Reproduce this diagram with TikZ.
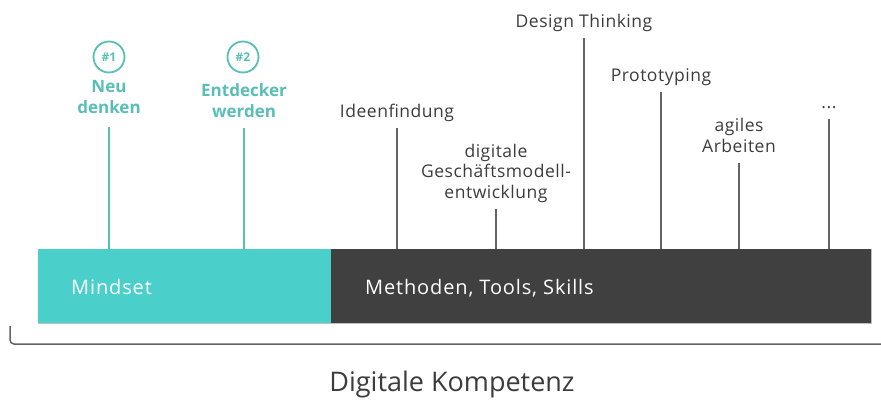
\documentclass[tikz,border=0pt]{standalone}
\usepackage{fontspec}
\setmainfont{Open Sans}
\definecolor{mindteal}{RGB}{74,207,202}
\definecolor{tealtext}{RGB}{88,190,182}
\definecolor{bardark}{RGB}{64,64,64}
\definecolor{stemgray}{RGB}{100,100,100}
\definecolor{textgray}{RGB}{60,60,60}

\begin{document}
\begin{tikzpicture}[x=1pt,y=-1pt,
    lbl/.style={align=center,inner sep=0pt,anchor=base,text=textgray,font=\fontsize{17.5}{20.5}\selectfont\addfontfeature{LetterSpace=3}},
    tlbl/.style={lbl,text=tealtext,font=\fontsize{17}{21}\selectfont\bfseries},
    stem/.style={line width=1.8pt,draw=stemgray,shorten <=11pt},
    tstem/.style={stem,draw=tealtext},
    badge/.style={circle,draw=tealtext,line width=1.8pt,minimum size=31pt,inner sep=0pt,text=tealtext,font=\fontsize{12}{12}\selectfont\bfseries},
    barbox/.style={minimum height=74pt,inner sep=0pt,anchor=north west},
    bartext/.style={anchor=base west,inner sep=0pt,text=white,font=\fontsize{20}{20}\selectfont\addfontfeature{LetterSpace=4.3}}]
      \useasboundingbox (0,0) rectangle (881,399);
      % the bar
      \node[barbox,fill=mindteal,minimum width=293pt] (mindset) at (38,249) {};
      \node[barbox,fill=bardark,minimum width=540pt] (methods) at (331,249) {};
      \draw[black!25,line width=1pt] (mindset.south west) -- (methods.south east) -- (methods.north east);
      \node[bartext] (mindsetTxt) at (71,294) {Mindset};
      \node[bartext] (methodsTxt) at (365,294) {Methoden, Tools, Skills};
      %
      \node[badge] (badge1) at (109,57) {\#1};
      \node[badge] (badge2) at (243,57) {\#2};
      \node[tlbl] (neu) at (109,113) {Neu\\denken};
      \node[tlbl] (entdecker) at (244,117) {Entdecker\\werden};
      \draw[tstem,shorten <=14pt] (neu.base) -- (neu.base |- mindset.north);
      \draw[tstem] (entdecker.base) -- (entdecker.base |- mindset.north);
      %
      \node[lbl] (idee) at (397,117) {Ideenfindung};
      \node[lbl] (gmodell) at (496,198) {digitale\\Geschäftsmodell-\\entwicklung};
      \node[lbl] (design) at (584,27) {Design Thinking};
      \node[lbl] (proto) at (661,81) {Prototyping};
      \node[lbl] (agil) at (739,152) {agiles\\Arbeiten};
      \node[lbl] (more) at (829,108) {...};
      \foreach \n in {idee,gmodell,design,proto,agil,more}
        \draw[stem] (\n.base) -- (\n.base |- methods.north);
      %
      \coordinate (braceL) at (10,326);
      \coordinate (braceR) at (881,344);
      \draw[stemgray,line width=1.5pt,rounded corners=4pt] (braceL) |- (braceR);
      \node[lbl,font=\fontsize{27}{27}\selectfont] (kompetenz) at (452,391) {Digitale Kompetenz};
\end{tikzpicture}
\end{document}
